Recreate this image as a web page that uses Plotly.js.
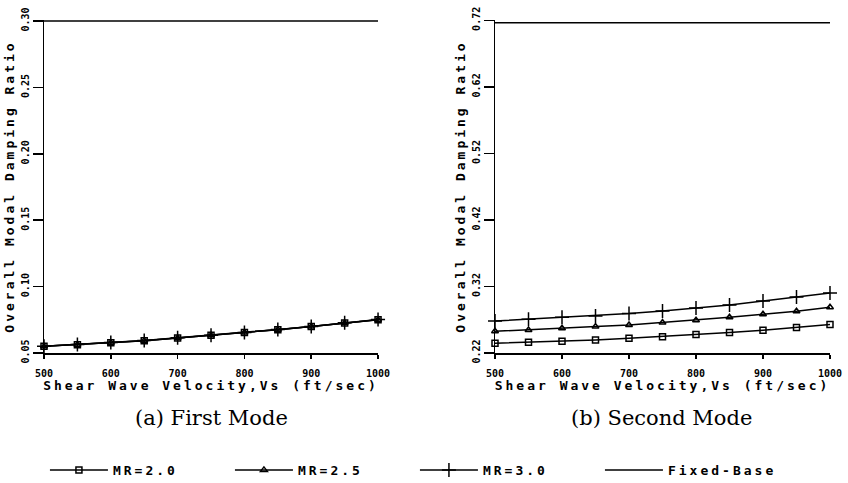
<!DOCTYPE html>
<html>
<head>
<meta charset="utf-8">
<script src="https://cdn.plot.ly/plotly-3.0.1.min.js"></script>
<style>
  body { margin: 0; background: #fff; }
  #chart { width: 848px; height: 483px; }
  .g-ytitle text, .g-y2title text, .g-xtitle text, .g-x2title text { letter-spacing: 3px; }
  .legendtext { letter-spacing: 3px; }
</style>
</head>
<body>
<div id="chart"></div>
<script>
// Shear wave velocity (ft/sec)
const vs = [500, 550, 600, 650, 700, 750, 800, 850, 900, 950, 1000];

// (a) First mode: the three mass-ratio curves coincide
const firstMR20 = [0.0550, 0.0563, 0.0578, 0.0593, 0.0613, 0.0633, 0.0654, 0.0676, 0.0699, 0.0726, 0.0751];
const firstMR25 = [0.0550, 0.0563, 0.0578, 0.0593, 0.0613, 0.0633, 0.0654, 0.0676, 0.0699, 0.0726, 0.0751];
const firstMR30 = [0.0551, 0.0564, 0.0579, 0.0594, 0.0614, 0.0634, 0.0655, 0.0677, 0.0700, 0.0727, 0.0752];
const firstFixed = [0.300, 0.300, 0.300, 0.300, 0.300, 0.300, 0.300, 0.300, 0.300, 0.300, 0.300];

// (b) Second mode
const secondMR20 = [0.2346, 0.2361, 0.2376, 0.2396, 0.2421, 0.2446, 0.2477, 0.2507, 0.2541, 0.2582, 0.2627];
const secondMR25 = [0.2526, 0.2546, 0.2571, 0.2597, 0.2621, 0.2657, 0.2692, 0.2737, 0.2782, 0.2827, 0.2887];
const secondMR30 = [0.2680, 0.2707, 0.2737, 0.2757, 0.2792, 0.2832, 0.2877, 0.2922, 0.2982, 0.3042, 0.3102];
const secondFixed = [0.7165, 0.7165, 0.7165, 0.7165, 0.7165, 0.7165, 0.7165, 0.7165, 0.7165, 0.7165, 0.7165];

const seriesNames = ['MR=2.0', 'MR=2.5', 'MR=3.0', 'Fixed-Base'];
const xTicks = [500, 600, 700, 800, 900, 1000];
const yTicksA = [0.05, 0.10, 0.15, 0.20, 0.25, 0.30];
const yTicksB = [0.22, 0.32, 0.42, 0.52, 0.62, 0.72];
const yTitle = 'Overall Modal Damping Ratio';
const xTitle = 'Shear Wave Velocity,Vs (ft/sec)';
const captions = ['(a) First Mode', '(b) Second Mode'];

const mono = 'DejaVu Sans Mono';
const markerStyles = [
  {symbol: 'square-open', size: 6, color: '#000', line: {width: 1.5, color: '#000'}},
  {symbol: 'triangle-up-open', size: 6, color: '#000', line: {width: 1.5, color: '#000'}},
  {symbol: 'cross-thin-open', size: 10, color: '#000', line: {width: 1.5, color: '#000'}}
];

function tr(y, i, xa, ya, show) {
  const isFixed = i === 3;
  const t = {
    x: vs, y: y, xaxis: xa, yaxis: ya,
    type: 'scatter',
    mode: isFixed ? 'lines' : 'lines+markers',
    name: seriesNames[i],
    showlegend: show,
    line: {color: '#000', width: 1.5},
    cliponaxis: false
  };
  if (!isFixed) t.marker = markerStyles[i];
  return t;
}

const data = [
  tr(firstMR20, 0, 'x', 'y', false),
  tr(firstMR25, 1, 'x', 'y', false),
  tr(firstMR30, 2, 'x', 'y', false),
  tr(firstFixed, 3, 'x', 'y', false),
  tr(secondMR20, 0, 'x2', 'y2', true),
  tr(secondMR25, 1, 'x2', 'y2', true),
  tr(secondMR30, 2, 'x2', 'y2', true),
  tr(secondFixed, 3, 'x2', 'y2', true)
];

function xaxis(domain, anchor) {
  return {
    domain: domain, anchor: anchor, range: [500, 1000],
    tickvals: xTicks, ticks: 'outside', ticklen: 4, tickwidth: 1.5, tickcolor: '#000',
    ticklabelstandoff: 6,
    tickfont: {family: mono, size: 10, color: '#000', weight: 'bold'},
    showline: true, linecolor: '#000', linewidth: 1.5,
    showgrid: false, zeroline: false, automargin: false,
    title: {text: xTitle, standoff: 1, font: {family: mono, size: 13, color: '#000', weight: 'bold'}}
  };
}
function yaxis(range, ticks, anchor) {
  return {
    anchor: anchor, range: range,
    tickvals: ticks, tickformat: '.2f',
    ticks: 'outside', ticklen: 10, tickwidth: 1.5, tickcolor: '#000',
    tickangle: -90,
    tickfont: {family: mono, size: 10, color: '#000', weight: 'bold'},
    showline: true, linecolor: '#000', linewidth: 1.5,
    showgrid: false, zeroline: false, automargin: false,
    title: {text: yTitle, standoff: 2, font: {family: mono, size: 13, color: '#000', weight: 'bold'}}
  };
}

const layout = {
  width: 848, height: 483,
  margin: {l: 44, r: 18, t: 20, b: 130},
  paper_bgcolor: '#fff', plot_bgcolor: '#fff',
  xaxis: xaxis([0, 0.425], 'y'),
  yaxis: yaxis([0.05, 0.3008], yTicksA, 'x'),
  xaxis2: xaxis([0.5738, 1], 'y2'),
  yaxis2: yaxis([0.22, 0.7205], yTicksB, 'x2'),
  showlegend: true,
  legend: {
    orientation: 'h', xref: 'container', yref: 'container',
    x: 0.053, xanchor: 'left', y: 0.027, yanchor: 'middle',
    entrywidth: 112, itemwidth: 58,
    font: {family: mono, size: 13, color: '#000', weight: 'bold'},
    bgcolor: 'rgba(0,0,0,0)'
  },
  annotations: [
    {text: captions[0], xref: 'paper', yref: 'paper', x: 0.2125, y: -0.195, showarrow: false,
     xanchor: 'center', yanchor: 'middle', font: {family: 'DejaVu Serif', size: 21, color: '#000'}},
    {text: captions[1], xref: 'paper', yref: 'paper', x: 0.785, y: -0.195, showarrow: false,
     xanchor: 'center', yanchor: 'middle', font: {family: 'DejaVu Serif', size: 21, color: '#000'}}
  ]
};

Plotly.newPlot('chart', data, layout, {staticPlot: true, displayModeBar: false});
</script>
</body>
</html>
